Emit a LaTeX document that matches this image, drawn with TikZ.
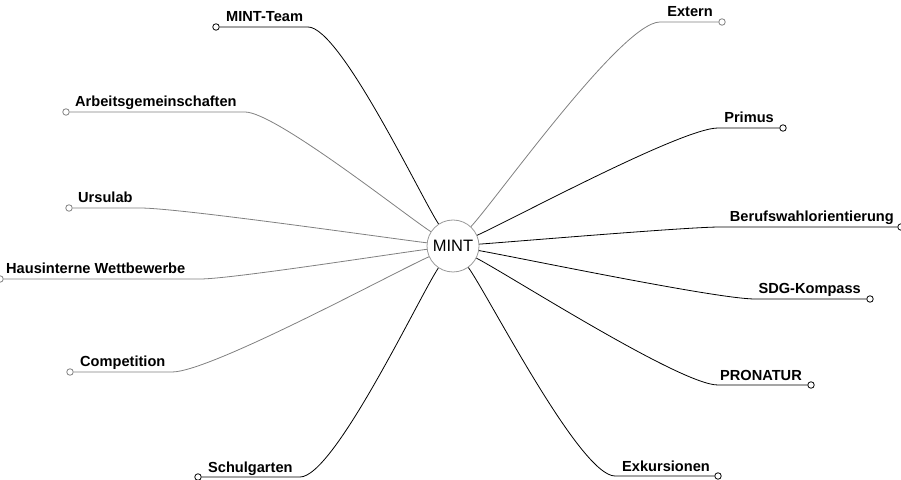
\documentclass[tikz,border=0pt]{standalone}
\usepackage{fontspec}
\setmainfont{Liberation Sans}

\begin{document}
\begin{tikzpicture}[x=1pt,y=1pt,
    topic/.style={font=\bfseries\fontsize{14.6}{16}\selectfont, inner sep=0pt},
    tip/.style={circle, draw, fill=white, inner sep=0pt, minimum size=6.5pt, line width=0.8pt},
    branch/.style={line width=0.8pt, looseness=0.35},
    faint/.style={draw=black!50}]
    \useasboundingbox (0,0) rectangle (901,479);
    \node[circle, draw=black!40, line width=0.8pt, minimum size=52pt, inner sep=0pt,
        font=\fontsize{16.5}{18}\selectfont] (mint) at (453,233) {MINT};

    % left side
    \node[tip] (teamdot) at (216,452) {};
    \coordinate (teambend) at (308,452);
    \node[topic, anchor=base west] (team) at (226,457) {MINT-Team};
    \draw[branch] (mint) to[out=123.5, in=0] (teambend) -- (teamdot);

    \node[tip, faint] (agdot) at (66,367) {};
    \coordinate (agbend) at (245,367);
    \node[topic, anchor=base west] (ag) at (75,372) {Arbeitsgemeinschaften};
    \draw[branch, faint] (mint) to[out=147.2, in=0] (agbend) -- (agdot);

    \node[tip, faint] (ursdot) at (69,271) {};
    \coordinate (ursbend) at (140,271);
    \node[topic, anchor=base west] (urs) at (78,276) {Ursulab};
    \draw[branch, faint] (mint) to[out=173.1, in=0] (ursbend) -- (ursdot);

    \node[tip, faint] (hausdot) at (0,200) {};
    \coordinate (hausbend) at (200,200);
    \node[topic, anchor=base west] (haus) at (6,205) {Hausinterne Wettbewerbe};
    \draw[branch, faint] (mint) to[out=187.4, in=0] (hausbend) -- (hausdot);

    \node[tip, faint] (compdot) at (70,107) {};
    \coordinate (compbend) at (172,107);
    \node[topic, anchor=base west] (comp) at (80,112) {Competition};
    \draw[branch, faint] (mint) to[out=204.2, in=0] (compbend) -- (compdot);

    \node[tip] (gartendot) at (198,2) {};
    \coordinate (gartenbend) at (300,2);
    \node[topic, anchor=base west] (garten) at (208,7) {Schulgarten};
    \draw[branch] (mint) to[out=236.5, in=0] (gartenbend) -- (gartendot);

    % right side
    \node[tip, faint] (externdot) at (722,457) {};
    \coordinate (externbend) at (660,457);
    \node[topic, anchor=base east] (extern) at (713,462) {Extern};
    \draw[branch, faint] (mint) to[out=47.3, in=180] (externbend) -- (externdot);

    \node[tip] (primusdot) at (783,351) {};
    \coordinate (primusbend) at (718,351);
    \node[topic, anchor=base east] (primus) at (774,356) {Primus};
    \draw[branch] (mint) to[out=24, in=180] (primusbend) -- (primusdot);

    \node[tip] (berufdot) at (901,252) {};
    \coordinate (berufbend) at (720,252);
    \node[topic, anchor=base east] (beruf) at (894,257) {Berufswahlorientierung};
    \draw[branch] (mint) to[out=4.1, in=180] (berufbend) -- (berufdot);

    \node[tip] (sdgdot) at (870,180) {};
    \coordinate (sdgbend) at (755,180);
    \node[topic, anchor=base east] (sdg) at (861,185) {SDG-Kompass};
    \draw[branch] (mint) to[out=-10, in=180] (sdgbend) -- (sdgdot);

    \node[tip] (pronaturdot) at (811,94) {};
    \coordinate (pronaturbend) at (718,94);
    \node[topic, anchor=base east] (pronatur) at (802,99) {PRONATUR};
    \draw[branch] (mint) to[out=-27.7, in=180] (pronaturbend) -- (pronaturdot);

    \node[tip] (exkdot) at (718,3) {};
    \coordinate (exkbend) at (615,3);
    \node[topic, anchor=base east] (exk) at (710,8) {Exkursionen};
    \draw[branch] (mint) to[out=-54.8, in=180] (exkbend) -- (exkdot);
\end{tikzpicture}
\end{document}
